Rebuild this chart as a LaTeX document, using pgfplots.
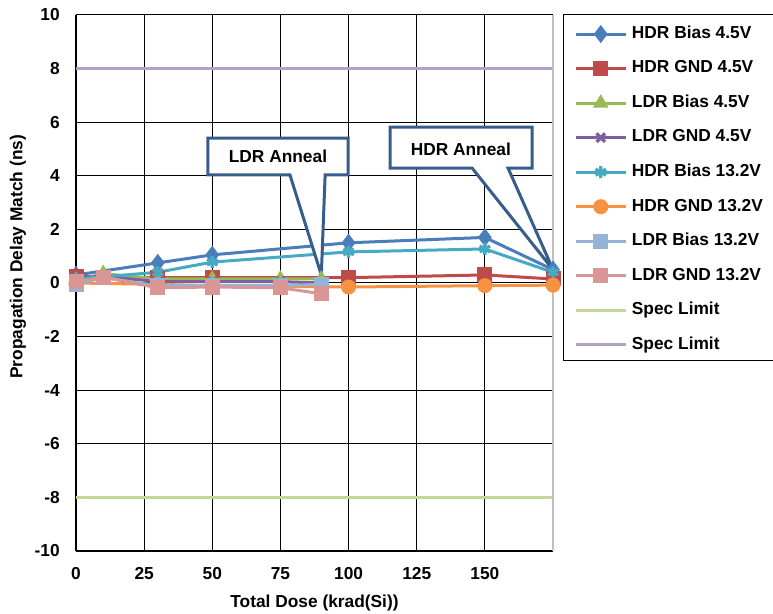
\documentclass[border=0pt]{standalone}
\usepackage{fontspec}
\setmainfont{Liberation Sans}
\usepackage{pgfplots}
\pgfplotsset{compat=1.18}

\definecolor{cblue}{HTML}{4A7EBB}
\definecolor{cred}{HTML}{BE4B48}
\definecolor{cgreen}{HTML}{98B954}
\definecolor{cpurple}{HTML}{7D60A0}
\definecolor{cteal}{HTML}{46AAC5}
\definecolor{corange}{HTML}{F69240}
\definecolor{clblue}{HTML}{95B3D7}
\definecolor{cpink}{HTML}{D99694}
\definecolor{specgreen}{HTML}{C3D69B}
\definecolor{specpurple}{HTML}{B3A2C7}
\definecolor{callout}{HTML}{385D8A}

\begin{document}
\begin{tikzpicture}[font=\fontsize{13}{15.6}\selectfont\bfseries]
\begin{axis}[
  scale only axis, width=357.75pt, height=402pt,
  xmin=0, xmax=175, ymin=-10, ymax=10,
  xtick={0,25,50,75,100,125,150}, xticklabels={0,25,50,75,100,125,150},
  ytick={-10,-8,-6,-4,-2,0,2,4,6,8,10}, yticklabels={-10,-8,-6,-4,-2,0,2,4,6,8,10},
  axis x line=bottom, axis y line=left,
  axis line style={-, black, line width=1.5pt},
  major tick length=0pt,
  grid=major, major grid style={black, line width=0.75pt},
  xticklabel style={inner sep=0pt, anchor=north, yshift=-12pt},
  yticklabel style={inner sep=0pt, anchor=east, xshift=-12pt},
  xlabel={Total Dose (krad(Si))},
  ylabel={Propagation Delay Match (ns)},
  every axis x label/.style={at={(rel axis cs:0.5,0)}, anchor=center, yshift=-39pt},
  every axis y label/.style={at={(rel axis cs:0,0.549)}, anchor=center, xshift=-43.5pt, rotate=90},
  clip=false,
  every axis plot/.append style={line width=2.25pt, mark size=4.5pt, mark options={solid}},
  legend image code/.code={\draw[mark repeat=2,mark phase=2,#1] plot coordinates {(0pt,0pt) (18.75pt,0pt) (37.5pt,0pt)};},
  legend cell align=left,
  legend style={at={(1.044,0.983)}, anchor=north west, draw=none, fill=none,
    inner sep=0pt, row sep=11.4pt, column sep=2.5pt,
    nodes={inner sep=1pt, text height=9.5pt, text depth=3pt}},
]
\addplot[cblue, mark=diamond*, mark size=5pt] coordinates {(0,0.3) (30,0.75) (50,1.05) (100,1.5) (150,1.7) (175,0.5)};
\addlegendentry{HDR Bias 4.5V}
\addplot[cred, mark=square*] coordinates {(0,0.25) (30,0.2) (50,0.2) (100,0.2) (150,0.3) (175,0.15)};
\addlegendentry{HDR GND 4.5V}
\addplot[cgreen, mark=triangle*] coordinates {(0,0.1) (10,0.35) (30,0.15) (50,0.15) (75,0.15) (90,0.15)};
\addlegendentry{LDR Bias 4.5V}
\addplot[cpurple, mark=x, mark options={line width=2.5pt}] coordinates {(0,0.2) (10,0.25) (30,0.05) (50,0.05) (75,0.05) (90,0.0)};
\addlegendentry{LDR GND 4.5V}
\addplot[cteal, mark=asterisk, mark options={line width=2.5pt}] coordinates {(0,0.15) (30,0.4) (50,0.78) (100,1.16) (150,1.27) (175,0.4)};
\addlegendentry{HDR Bias 13.2V}
\addplot[corange, mark=*] coordinates {(0,0.0) (30,-0.05) (50,-0.1) (100,-0.15) (150,-0.1) (175,-0.08)};
\addlegendentry{HDR GND 13.2V}
\addplot[clblue, mark=square*] coordinates {(0,-0.05) (10,0.2) (30,-0.1) (50,-0.1) (75,-0.1) (90,-0.05)};
\addlegendentry{LDR Bias 13.2V}
\addplot[cpink, mark=square*] coordinates {(0,0.05) (10,0.22) (30,-0.18) (50,-0.15) (75,-0.18) (90,-0.4)};
\addlegendentry{LDR GND 13.2V}
\addplot[specgreen, no markers] coordinates {(0,-8) (175,-8)};
\addlegendentry{Spec Limit}
\addplot[specpurple, no markers] coordinates {(0,8) (175,8)};
\addlegendentry{Spec Limit}

% right edge and legend frame
\draw[black!25, line width=1pt] (rel axis cs:1,0) -- (rel axis cs:1,1);
\draw[black, line width=0.75pt] (rel axis cs:1.7,1) -- (rel axis cs:1.023,1) -- (rel axis cs:1.023,0.356) -- (rel axis cs:1.7,0.356);

% callouts
\draw[callout, line width=2.25pt, fill=white, line join=miter]
  (48.4,5.41) -- (99.8,5.41) -- (99.8,4.03) -- (91.4,4.03) -- (90,0.3) -- (78.5,4.03) -- (48.4,4.03) -- cycle;
\node at (74.1,4.72) {LDR Anneal};
\draw[callout, line width=2.25pt, fill=white, line join=miter]
  (115.2,5.82) -- (167.3,5.82) -- (167.3,4.29) -- (158.5,4.29) -- (175,0.5) -- (145.3,4.29) -- (115.2,4.29) -- cycle;
\node at (141.2,5.0) {HDR Anneal};
\end{axis}
\pgfresetboundingbox
\path[use as bounding box] (-57pt,-46.5pt) rectangle (522.75pt,413.25pt);
\end{tikzpicture}
\end{document}
